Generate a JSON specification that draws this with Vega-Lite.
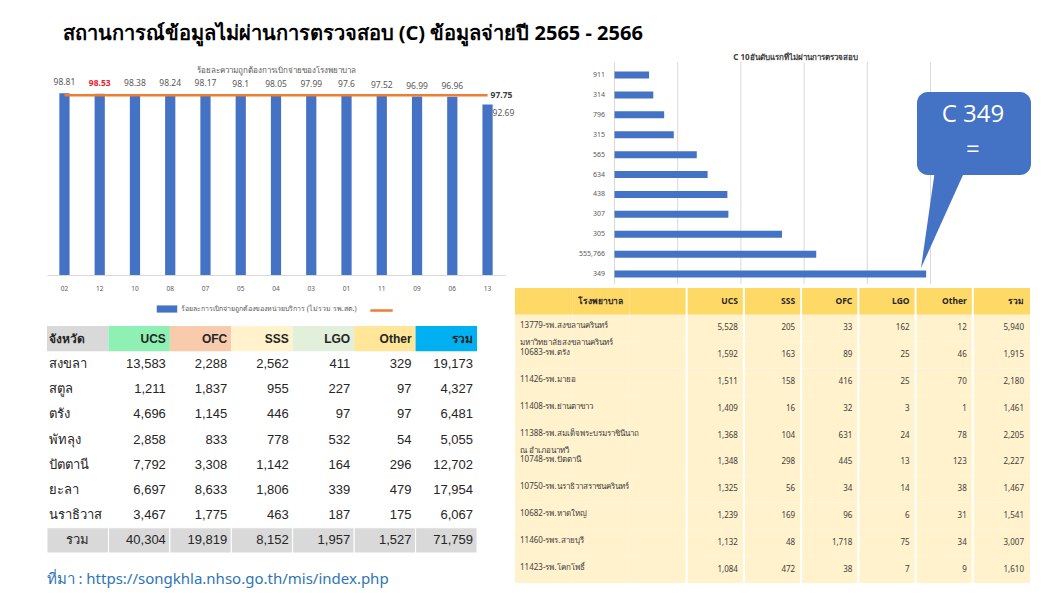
{
  "$schema": "https://vega.github.io/schema/vega-lite/v6.json",
  "background": "white",
  "padding": {"left": 46, "top": 24, "right": 8, "bottom": 2},
  "config": {"view": {"stroke": null}, "font": "Noto Sans", "title": {"font": "Noto Sans"}},
  "title": {"text": "สถานการณ์ข้อมูลไม่ผ่านการตรวจสอบ (C) ข้อมูลจ่ายปี 2565 - 2566", "anchor": "start", "fontSize": 20, "fontWeight": "bold", "color": "#000000", "dx": 16, "offset": 4},
  "datasets": {
    "zones": [
      {"zone": "02", "pct": 98.81, "avg": 97.75},
      {"zone": "12", "pct": 98.53, "avg": 97.75},
      {"zone": "10", "pct": 98.38, "avg": 97.75},
      {"zone": "08", "pct": 98.24, "avg": 97.75},
      {"zone": "07", "pct": 98.17, "avg": 97.75},
      {"zone": "05", "pct": 98.1, "avg": 97.75},
      {"zone": "04", "pct": 98.05, "avg": 97.75},
      {"zone": "03", "pct": 97.99, "avg": 97.75},
      {"zone": "01", "pct": 97.6, "avg": 97.75},
      {"zone": "11", "pct": 97.52, "avg": 97.75},
      {"zone": "09", "pct": 96.99, "avg": 97.75},
      {"zone": "06", "pct": 96.96, "avg": 97.75},
      {"zone": "13", "pct": 92.69, "avg": 97.75}
    ],
    "top10": [
      {"code": "911", "n": 547},
      {"code": "314", "n": 614},
      {"code": "796", "n": 786},
      {"code": "315", "n": 938},
      {"code": "565", "n": 1302},
      {"code": "634", "n": 1473},
      {"code": "438", "n": 1786},
      {"code": "307", "n": 1802},
      {"code": "305", "n": 2650},
      {"code": "555,766", "n": 3192},
      {"code": "349", "n": 4931}
    ],
    "gridTicks": [{"g": 0}, {"g": 1000}, {"g": 2000}, {"g": 3000}, {"g": 4000}, {"g": 5000}],
    "provHead": [
      {"col": "name", "label": "จังหวัด"},
      {"col": "UCS", "label": "UCS"},
      {"col": "OFC", "label": "OFC"},
      {"col": "SSS", "label": "SSS"},
      {"col": "LGO", "label": "LGO"},
      {"col": "Other", "label": "Other"},
      {"col": "total", "label": "รวม"}
    ],
    "prov": [
      {"province": "สงขลา", "UCS": 13583, "OFC": 2288, "SSS": 2562, "LGO": 411, "Other": 329, "total": 19173},
      {"province": "สตูล", "UCS": 1211, "OFC": 1837, "SSS": 955, "LGO": 227, "Other": 97, "total": 4327},
      {"province": "ตรัง", "UCS": 4696, "OFC": 1145, "SSS": 446, "LGO": 97, "Other": 97, "total": 6481},
      {"province": "พัทลุง", "UCS": 2858, "OFC": 833, "SSS": 778, "LGO": 532, "Other": 54, "total": 5055},
      {"province": "ปัตตานี", "UCS": 7792, "OFC": 3308, "SSS": 1142, "LGO": 164, "Other": 296, "total": 12702},
      {"province": "ยะลา", "UCS": 6697, "OFC": 8633, "SSS": 1806, "LGO": 339, "Other": 479, "total": 17954},
      {"province": "นราธิวาส", "UCS": 3467, "OFC": 1775, "SSS": 463, "LGO": 187, "Other": 175, "total": 6067},
      {"province": "รวม", "UCS": 40304, "OFC": 19819, "SSS": 8152, "LGO": 1957, "Other": 1527, "total": 71759}
    ],
    "hospHead": [
      {"col": "n1", "label": ""},
      {"col": "n2", "label": "โรงพยาบาล"},
      {"col": "n3", "label": ""},
      {"col": "UCS", "label": "UCS"},
      {"col": "SSS", "label": "SSS"},
      {"col": "OFC", "label": "OFC"},
      {"col": "LGO", "label": "LGO"},
      {"col": "Other", "label": "Other"},
      {"col": "total", "label": "รวม"}
    ],
    "hosp": [
      {"id": "13779", "name": "13779-รพ.สงขลานครินทร์\nมหาวิทยาลัยสงขลานครินทร์", "UCS": 5528, "SSS": 205, "OFC": 33, "LGO": 162, "Other": 12, "total": 5940},
      {"id": "10683", "name": "10683-รพ.ตรัง", "UCS": 1592, "SSS": 163, "OFC": 89, "LGO": 25, "Other": 46, "total": 1915},
      {"id": "11426", "name": "11426-รพ.มายอ", "UCS": 1511, "SSS": 158, "OFC": 416, "LGO": 25, "Other": 70, "total": 2180},
      {"id": "11408", "name": "11408-รพ.ย่านตาขาว", "UCS": 1409, "SSS": 16, "OFC": 32, "LGO": 3, "Other": 1, "total": 1461},
      {"id": "11388", "name": "11388-รพ.สมเด็จพระบรมราชินีนาถ\nณ อำเภอนาทวี", "UCS": 1368, "SSS": 104, "OFC": 631, "LGO": 24, "Other": 78, "total": 2205},
      {"id": "10748", "name": "10748-รพ.ปัตตานี", "UCS": 1348, "SSS": 298, "OFC": 445, "LGO": 13, "Other": 123, "total": 2227},
      {"id": "10750", "name": "10750-รพ.นราธิวาสราชนครินทร์", "UCS": 1325, "SSS": 56, "OFC": 34, "LGO": 14, "Other": 38, "total": 1467},
      {"id": "10682", "name": "10682-รพ.หาดใหญ่", "UCS": 1239, "SSS": 169, "OFC": 96, "LGO": 6, "Other": 31, "total": 1541},
      {"id": "11460", "name": "11460-รพร.สายบุรี", "UCS": 1132, "SSS": 48, "OFC": 1718, "LGO": 75, "Other": 34, "total": 3007},
      {"id": "11423", "name": "11423-รพ.โคกโพธิ์", "UCS": 1084, "SSS": 472, "OFC": 38, "LGO": 7, "Other": 9, "total": 1610}
    ]
  },
  "spacing": 0,
  "resolve": {"scale": {"fill": "independent", "stroke": "independent", "color": "independent"}, "legend": {"fill": "independent", "stroke": "independent", "color": "independent"}},
  "hconcat": [
    {
      "bounds": "flush",
      "spacing": 51,
      "resolve": {"scale": {"fill": "independent", "stroke": "independent", "color": "independent"}, "legend": {"fill": "independent", "stroke": "independent", "color": "independent"}},
      "vconcat": [
        {
          "width": 458, "height": 227,
          "data": {"name": "zones"},
          "title": {"text": "ร้อยละความถูกต้องการเบิกจ่ายของโรงพยาบาล", "fontSize": 8, "fontWeight": "normal", "color": "#595959", "offset": -27},
          "encoding": {
            "x": {"field": "zone", "type": "nominal", "sort": null, "scale": {"paddingInner": 0.71, "paddingOuter": 0.35}, "axis": {"title": null, "labelAngle": 0, "labelFontSize": 6.5, "labelColor": "#595959", "ticks": false, "domainColor": "#D9D9D9", "labelPadding": 10}}
          },
          "layer": [
            {"mark": {"type": "bar"}, "encoding": {
              "y": {"field": "pct", "type": "quantitative", "scale": {"domain": [0, 123.4], "nice": false}, "axis": null},
              "fill": {"datum": "ร้อยละการเบิกจ่ายถูกต้องของหน่วยบริการ (ไม่รวม รพ.สต.)", "type": "nominal", "scale": {"range": ["#4472C4"]}, "legend": {"orient": "none", "legendX": 109, "legendY": 250, "title": null, "symbolType": "M-1,-0.35H1V0.35H-1Z", "symbolSize": 420, "labelFontSize": 7, "labelLimit": 400, "labelColor": "#595959", "labelOffset": 3}}
            }},
            {"mark": {"type": "line", "strokeWidth": 2.5}, "encoding": {
              "y": {"field": "avg", "type": "quantitative", "scale": {"domain": [0, 123.4], "nice": false}, "axis": null},
              "stroke": {"datum": " ", "type": "nominal", "scale": {"range": ["#ED7D31"]}, "legend": {"orient": "none", "legendX": 322, "legendY": 250, "title": null, "symbolType": "stroke", "symbolStrokeWidth": 2.5, "symbolSize": 500, "labelFontSize": 7, "labelLimit": 10}}
            }},
            {"transform": [{"filter": "datum.zone != '12' && datum.zone != '13'"}],
             "mark": {"type": "text", "baseline": "bottom", "dy": -6, "fontSize": 8.5, "color": "#595959"},
             "encoding": {"y": {"field": "pct", "type": "quantitative", "scale": {"domain": [0, 123.4], "nice": false}, "axis": null}, "text": {"field": "pct", "type": "nominal"}}},
            {"transform": [{"filter": "datum.zone == '12'"}],
             "mark": {"type": "text", "baseline": "bottom", "dy": -6, "fontSize": 8.5, "fontWeight": "bold", "color": "#E8202A"},
             "encoding": {"y": {"field": "pct", "type": "quantitative", "scale": {"domain": [0, 123.4], "nice": false}, "axis": null}, "text": {"field": "pct", "type": "nominal"}}},
            {"transform": [{"filter": "datum.zone == '13'"}],
             "mark": {"type": "text", "baseline": "middle", "align": "left", "dx": 5, "dy": 9, "fontSize": 8.5, "color": "#595959"},
             "encoding": {"y": {"field": "pct", "type": "quantitative", "scale": {"domain": [0, 123.4], "nice": false}, "axis": null}, "text": {"field": "pct", "type": "nominal"}}},
            {"transform": [{"filter": "datum.zone == '13'"}],
             "mark": {"type": "text", "baseline": "middle", "align": "left", "dx": 3, "fontSize": 8.5, "fontWeight": "bold", "color": "#404040"},
             "encoding": {"y": {"field": "avg", "type": "quantitative", "scale": {"domain": [0, 123.4], "nice": false}, "axis": null}, "text": {"field": "avg", "type": "nominal"}}}
          ]
        },
        {
          "width": 430, "height": 227,
          "title": {"text": "ที่มา : https://songkhla.nhso.go.th/mis/index.php", "orient": "bottom", "anchor": "start", "fontSize": 15, "fontWeight": "normal", "color": "#2E75B6", "offset": 18},
          "layer": [
            {"data": {"name": "provHead"}, "mark": {"type": "rect"}, "encoding": {
              "x": {"field": "col", "type": "nominal", "scale": {"domain": ["name", "UCS", "OFC", "SSS", "LGO", "Other", "total"], "paddingInner": 0, "paddingOuter": 0}, "axis": null},
              "y": {"datum": "header", "type": "nominal", "scale": {"domain": ["header", "สงขลา", "สตูล", "ตรัง", "พัทลุง", "ปัตตานี", "ยะลา", "นราธิวาส", "รวม"], "paddingInner": 0, "paddingOuter": 0}, "axis": null},
              "color": {"field": "col", "type": "nominal", "scale": {"domain": ["name", "UCS", "OFC", "SSS", "LGO", "Other", "total"], "range": ["#D9D9D9", "#8EF0B2", "#F8CBAD", "#FFF2CC", "#E2EFDA", "#FFE699", "#00B0F0"]}, "legend": null}
            }},
            {"data": {"name": "prov"}, "transform": [{"filter": "datum.province == 'รวม'"}, {"fold": ["UCS", "OFC", "SSS", "LGO", "Other", "total"], "as": ["key", "value"]}],
             "mark": {"type": "rect", "color": "#D9D9D9", "stroke": "white", "strokeWidth": 1}, "encoding": {
              "x": {"field": "key", "type": "nominal", "scale": {"domain": ["name", "UCS", "OFC", "SSS", "LGO", "Other", "total"], "paddingInner": 0, "paddingOuter": 0}, "axis": null},
              "y": {"field": "province", "type": "nominal", "scale": {"domain": ["header", "สงขลา", "สตูล", "ตรัง", "พัทลุง", "ปัตตานี", "ยะลา", "นราธิวาส", "รวม"], "paddingInner": 0, "paddingOuter": 0}, "axis": null}
            }},
            {"data": {"name": "prov"}, "transform": [{"filter": "datum.province == 'รวม'"}],
             "mark": {"type": "rect", "color": "#D9D9D9", "stroke": "white", "strokeWidth": 1}, "encoding": {
              "x": {"datum": "name", "type": "nominal", "scale": {"domain": ["name", "UCS", "OFC", "SSS", "LGO", "Other", "total"], "paddingInner": 0, "paddingOuter": 0}, "axis": null},
              "y": {"field": "province", "type": "nominal", "scale": {"domain": ["header", "สงขลา", "สตูล", "ตรัง", "พัทลุง", "ปัตตานี", "ยะลา", "นราธิวาส", "รวม"], "paddingInner": 0, "paddingOuter": 0}, "axis": null}
            }},
            {"data": {"name": "provHead"}, "transform": [{"filter": "datum.col == 'name'"}],
             "mark": {"type": "text", "align": "left", "dx": 2, "fontSize": 12, "fontWeight": "bold", "color": "#262626"}, "encoding": {
              "x": {"field": "col", "type": "nominal", "bandPosition": 0, "scale": {"domain": ["name", "UCS", "OFC", "SSS", "LGO", "Other", "total"], "paddingInner": 0, "paddingOuter": 0}, "axis": null},
              "y": {"datum": "header", "type": "nominal", "scale": {"domain": ["header", "สงขลา", "สตูล", "ตรัง", "พัทลุง", "ปัตตานี", "ยะลา", "นราธิวาส", "รวม"], "paddingInner": 0, "paddingOuter": 0}, "axis": null},
              "text": {"field": "label", "type": "nominal"}
            }},
            {"data": {"name": "provHead"}, "transform": [{"filter": "datum.col != 'name'"}],
             "mark": {"type": "text", "align": "right", "dx": -4, "fontSize": 12, "fontWeight": "bold", "color": "#262626", "font": "Liberation Sans"}, "encoding": {
              "x": {"field": "col", "type": "nominal", "bandPosition": 1, "scale": {"domain": ["name", "UCS", "OFC", "SSS", "LGO", "Other", "total"], "paddingInner": 0, "paddingOuter": 0}, "axis": null},
              "y": {"datum": "header", "type": "nominal", "scale": {"domain": ["header", "สงขลา", "สตูล", "ตรัง", "พัทลุง", "ปัตตานี", "ยะลา", "นราธิวาส", "รวม"], "paddingInner": 0, "paddingOuter": 0}, "axis": null},
              "text": {"field": "label", "type": "nominal"}
            }},
            {"data": {"name": "prov"}, "transform": [{"fold": ["UCS", "OFC", "SSS", "LGO", "Other", "total"], "as": ["key", "value"]}],
             "mark": {"type": "text", "align": "right", "dx": -4, "fontSize": 13, "color": "#262626", "font": "Liberation Sans"}, "encoding": {
              "x": {"field": "key", "type": "nominal", "bandPosition": 1, "scale": {"domain": ["name", "UCS", "OFC", "SSS", "LGO", "Other", "total"], "paddingInner": 0, "paddingOuter": 0}, "axis": null},
              "y": {"field": "province", "type": "nominal", "scale": {"domain": ["header", "สงขลา", "สตูล", "ตรัง", "พัทลุง", "ปัตตานี", "ยะลา", "นราธิวาส", "รวม"], "paddingInner": 0, "paddingOuter": 0}, "axis": null},
              "text": {"field": "value", "type": "quantitative", "format": ","}
            }},
            {"data": {"name": "prov"}, "transform": [{"filter": "datum.province != 'รวม'"}],
             "mark": {"type": "text", "align": "left", "dx": 2, "fontSize": 13, "color": "#262626"}, "encoding": {
              "x": {"datum": "name", "type": "nominal", "bandPosition": 0, "scale": {"domain": ["name", "UCS", "OFC", "SSS", "LGO", "Other", "total"], "paddingInner": 0, "paddingOuter": 0}, "axis": null},
              "y": {"field": "province", "type": "nominal", "scale": {"domain": ["header", "สงขลา", "สตูล", "ตรัง", "พัทลุง", "ปัตตานี", "ยะลา", "นราธิวาส", "รวม"], "paddingInner": 0, "paddingOuter": 0}, "axis": null},
              "text": {"field": "province", "type": "nominal"}
            }},
            {"data": {"name": "prov"}, "transform": [{"filter": "datum.province == 'รวม'"}],
             "mark": {"type": "text", "align": "center", "fontSize": 13, "color": "#262626"}, "encoding": {
              "x": {"datum": "name", "type": "nominal", "scale": {"domain": ["name", "UCS", "OFC", "SSS", "LGO", "Other", "total"], "paddingInner": 0, "paddingOuter": 0}, "axis": null},
              "y": {"field": "province", "type": "nominal", "scale": {"domain": ["header", "สงขลา", "สตูล", "ตรัง", "พัทลุง", "ปัตตานี", "ยะลา", "นราธิวาส", "รวม"], "paddingInner": 0, "paddingOuter": 0}, "axis": null},
              "text": {"field": "province", "type": "nominal"}
            }}
          ]
        }
      ]
    },
    {
      "bounds": "flush",
      "spacing": 4,
      "center": true,
      "vconcat": [
        {
          "width": 316, "height": 236,
          "title": {"text": "C 10อันดับแรกที่ไม่ผ่านการตรวจสอบ", "fontSize": 8, "fontWeight": "bold", "color": "#404040", "offset": -14, "dx": 23},
          "layer": [
            {"data": {"name": "gridTicks"}, "mark": {"type": "rule", "color": "#D9D9D9", "strokeWidth": 1}, "encoding": {
              "x": {"field": "g", "type": "quantitative", "scale": {"domain": [0, 5000], "nice": false}, "axis": null},
              "y": {"datum": -0.15, "type": "quantitative", "scale": {"domain": [-0.854, 11], "nice": false, "zero": false, "reverse": true}, "axis": null},
              "y2": {"datum": 11}
            }},
            {"data": {"name": "top10"}, "mark": {"type": "bar", "color": "#4472C4", "size": 7}, "encoding": {
              "y": {"field": "code", "type": "nominal", "sort": null, "scale": {"paddingInner": 0, "paddingOuter": 0.43, "align": 1}, "axis": {"title": null, "ticks": false, "domain": false, "labelFontSize": 7, "labelColor": "#595959", "labelPadding": 10}},
              "x": {"field": "n", "type": "quantitative", "scale": {"domain": [0, 5000], "nice": false}, "axis": null}
            }},
            {"data": {"values": [{}]}, "mark": {"type": "rect", "color": "#4472C4", "cornerRadius": 11}, "encoding": {
              "x": {"datum": 4786, "type": "quantitative", "scale": {"domain": [0, 5000], "nice": false}, "axis": null},
              "x2": {"datum": 6590},
              "y": {"datum": 1.36, "type": "quantitative", "scale": {"domain": [-0.854, 11], "nice": false, "zero": false, "reverse": true}, "axis": null},
              "y2": {"datum": 5.53}
            }},
            {"data": {"values": [{"ty": 5.3, "xa": 5071, "xb": 5546}, {"ty": 10.2, "xa": 4850, "xb": 4850}]}, "mark": {"type": "area", "orient": "horizontal", "color": "#4472C4"}, "encoding": {
              "y": {"field": "ty", "type": "quantitative", "scale": {"domain": [-0.854, 11], "nice": false, "zero": false, "reverse": true}, "axis": null},
              "x": {"field": "xa", "type": "quantitative", "scale": {"domain": [0, 5000], "nice": false}, "axis": null},
              "x2": {"field": "xb"}
            }},
            {"data": {"values": [{}]}, "mark": {"type": "text", "text": "C 349", "fontSize": 24, "color": "white", "font": "Open Sans"}, "encoding": {
              "x": {"datum": 5672, "type": "quantitative", "scale": {"domain": [0, 5000], "nice": false}, "axis": null},
              "y": {"datum": 2.51, "type": "quantitative", "scale": {"domain": [-0.854, 11], "nice": false, "zero": false, "reverse": true}, "axis": null}
            }},
            {"data": {"values": [{}]}, "mark": {"type": "text", "text": "=", "fontSize": 24, "color": "white", "font": "Open Sans"}, "encoding": {
              "x": {"datum": 5672, "type": "quantitative", "scale": {"domain": [0, 5000], "nice": false}, "axis": null},
              "y": {"datum": 4.27, "type": "quantitative", "scale": {"domain": [-0.854, 11], "nice": false, "zero": false, "reverse": true}, "axis": null}
            }}
          ],
          "resolve": {"scale": {"y": "independent"}}
        },
        {
          "width": 515, "height": 295,
          "layer": [
            {"data": {"name": "hospHead"}, "mark": {"type": "rect", "color": "#FFD966"}, "encoding": {
              "x": {"field": "col", "type": "nominal", "scale": {"domain": ["n1", "n2", "n3", "UCS", "SSS", "OFC", "LGO", "Other", "total"], "paddingInner": 0, "paddingOuter": 0}, "axis": null},
              "y": {"datum": "header", "type": "nominal", "scale": {"domain": ["header", "13779", "10683", "11426", "11408", "11388", "10748", "10750", "10682", "11460", "11423"], "paddingInner": 0, "paddingOuter": 0}, "axis": null}
            }},
            {"data": {"name": "hosp"}, "transform": [{"fold": ["n1", "n2", "n3", "UCS", "SSS", "OFC", "LGO", "Other", "total"], "as": ["key", "value"]}], "mark": {"type": "rect", "color": "#FFF2CC"}, "encoding": {
              "x": {"field": "key", "type": "nominal", "scale": {"domain": ["n1", "n2", "n3", "UCS", "SSS", "OFC", "LGO", "Other", "total"], "paddingInner": 0, "paddingOuter": 0}, "axis": null},
              "y": {"field": "id", "type": "nominal", "scale": {"domain": ["header", "13779", "10683", "11426", "11408", "11388", "10748", "10750", "10682", "11460", "11423"], "paddingInner": 0, "paddingOuter": 0}, "axis": null}
            }},
            {"data": {"name": "hospHead"}, "transform": [{"filter": "datum.col != 'n1' && datum.col != 'n2' && datum.col != 'n3'"}], "mark": {"type": "rule", "color": "white", "strokeWidth": 2}, "encoding": {
              "x": {"field": "col", "type": "nominal", "bandPosition": 0, "scale": {"domain": ["n1", "n2", "n3", "UCS", "SSS", "OFC", "LGO", "Other", "total"], "paddingInner": 0, "paddingOuter": 0}, "axis": null}
            }},
            {"data": {"name": "hospHead"}, "transform": [{"filter": "datum.col == 'n2'"}], "mark": {"type": "text", "align": "center", "fontSize": 8.5, "fontWeight": "bold", "color": "#262626"}, "encoding": {
              "x": {"field": "col", "type": "nominal", "scale": {"domain": ["n1", "n2", "n3", "UCS", "SSS", "OFC", "LGO", "Other", "total"], "paddingInner": 0, "paddingOuter": 0}, "axis": null},
              "y": {"datum": "header", "type": "nominal", "scale": {"domain": ["header", "13779", "10683", "11426", "11408", "11388", "10748", "10750", "10682", "11460", "11423"], "paddingInner": 0, "paddingOuter": 0}, "axis": null},
              "text": {"field": "label", "type": "nominal"}
            }},
            {"data": {"name": "hospHead"}, "transform": [{"filter": "datum.col != 'n1' && datum.col != 'n2' && datum.col != 'n3'"}], "mark": {"type": "text", "align": "right", "dx": -6, "fontSize": 8.5, "fontWeight": "bold", "color": "#262626"}, "encoding": {
              "x": {"field": "col", "type": "nominal", "bandPosition": 1, "scale": {"domain": ["n1", "n2", "n3", "UCS", "SSS", "OFC", "LGO", "Other", "total"], "paddingInner": 0, "paddingOuter": 0}, "axis": null},
              "y": {"datum": "header", "type": "nominal", "scale": {"domain": ["header", "13779", "10683", "11426", "11408", "11388", "10748", "10750", "10682", "11460", "11423"], "paddingInner": 0, "paddingOuter": 0}, "axis": null},
              "text": {"field": "label", "type": "nominal"}
            }},
            {"data": {"name": "hosp"}, "mark": {"type": "text", "align": "left", "baseline": "top", "dx": 5, "dy": -6, "fontSize": 8, "lineBreak": "\n", "lineHeight": 17, "color": "#404040"}, "encoding": {
              "x": {"datum": "n1", "type": "nominal", "bandPosition": 0, "scale": {"domain": ["n1", "n2", "n3", "UCS", "SSS", "OFC", "LGO", "Other", "total"], "paddingInner": 0, "paddingOuter": 0}, "axis": null},
              "y": {"field": "id", "type": "nominal", "scale": {"domain": ["header", "13779", "10683", "11426", "11408", "11388", "10748", "10750", "10682", "11460", "11423"], "paddingInner": 0, "paddingOuter": 0}, "axis": null},
              "text": {"field": "name", "type": "nominal"}
            }},
            {"data": {"name": "hosp"}, "transform": [{"fold": ["UCS", "SSS", "OFC", "LGO", "Other", "total"], "as": ["key", "value"]}], "mark": {"type": "text", "align": "right", "baseline": "middle", "dx": -6, "fontSize": 8, "color": "#404040"}, "encoding": {
              "x": {"field": "key", "type": "nominal", "bandPosition": 1, "scale": {"domain": ["n1", "n2", "n3", "UCS", "SSS", "OFC", "LGO", "Other", "total"], "paddingInner": 0, "paddingOuter": 0}, "axis": null},
              "y": {"field": "id", "type": "nominal", "scale": {"domain": ["header", "13779", "10683", "11426", "11408", "11388", "10748", "10750", "10682", "11460", "11423"], "paddingInner": 0, "paddingOuter": 0}, "axis": null},
              "text": {"field": "value", "type": "quantitative", "format": ","}
            }}
          ]
        }
      ]
    }
  ]
}
